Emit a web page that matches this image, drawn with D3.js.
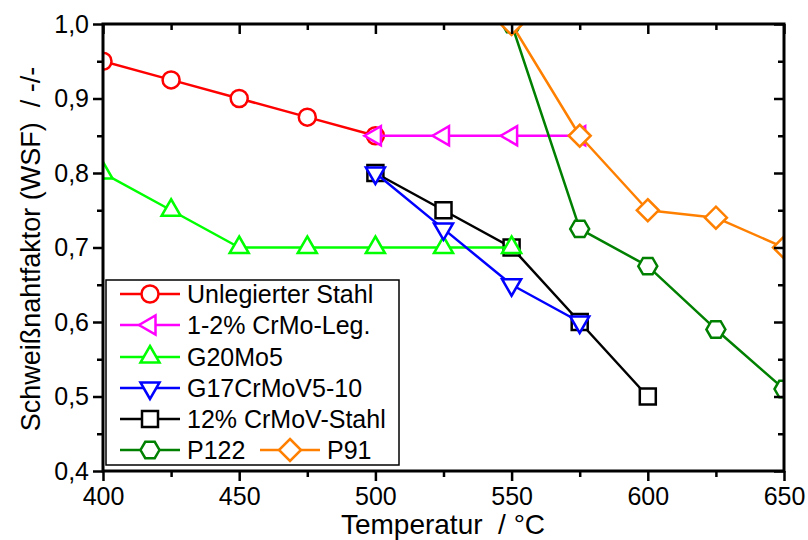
<!DOCTYPE html>
<html>
<head>
<meta charset="utf-8">
<script src="https://cdn.jsdelivr.net/npm/d3@7"></script>
<style>
  html, body { margin: 0; padding: 0; background: #fff; }
  svg { display: block; font-family: "Liberation Sans", Arial, sans-serif; }
  .title { white-space: pre; }
</style>
</head>
<body>
<svg id="chart" width="808" height="540"></svg>
<script>
// Temperature axis (°C) and weld strength factor axis
const xTicks = [400, 450, 500, 550, 600, 650];
const xMinorTicks = [425, 475, 525, 575, 625];
const yTicks = [0.4, 0.5, 0.6, 0.7, 0.8, 0.9, 1.0];
const yTickLabels = ["0,4", "0,5", "0,6", "0,7", "0,8", "0,9", "1,0"];
const yMinorTicks = [0.45, 0.55, 0.65, 0.75, 0.85, 0.95];

// Series: temperature and factor values
const unlegTemp = [400, 425, 450, 475, 500];
const unlegWsf  = [0.95, 0.925, 0.9, 0.875, 0.85];

const crmoTemp = [500, 525, 550, 575];
const crmoWsf  = [0.85, 0.85, 0.85, 0.85];

const g20Temp = [400, 425, 450, 475, 500, 525, 550];
const g20Wsf  = [0.80, 0.75, 0.70, 0.70, 0.70, 0.70, 0.70];

const g17Temp = [500, 525, 550, 575];
const g17Wsf  = [0.80, 0.725, 0.65, 0.60];

const cr12Temp = [500, 525, 550, 575, 600];
const cr12Wsf  = [0.80, 0.75, 0.70, 0.60, 0.50];

const p122Temp = [550, 575, 600, 625, 650];
const p122Wsf  = [1.00, 0.725, 0.675, 0.59, 0.51];

const p91Temp = [550, 575, 600, 625, 650];
const p91Wsf  = [1.00, 0.85, 0.75, 0.74, 0.70];

const seriesNames = ["Unlegierter Stahl", "1-2% CrMo-Leg.", "G20Mo5", "G17CrMoV5-10", "12% CrMoV-Stahl", "P122", "P91"];

const series = [
  { name: seriesNames[0], t: unlegTemp, v: unlegWsf, color: "#ff0000", shape: "circle" },
  { name: seriesNames[1], t: crmoTemp,  v: crmoWsf,  color: "#ff00ff", shape: "left" },
  { name: seriesNames[2], t: g20Temp,   v: g20Wsf,   color: "#00ff00", shape: "up" },
  { name: seriesNames[3], t: g17Temp,   v: g17Wsf,   color: "#0000ff", shape: "down" },
  { name: seriesNames[4], t: cr12Temp,  v: cr12Wsf,  color: "#000000", shape: "square" },
  { name: seriesNames[5], t: p122Temp,  v: p122Wsf,  color: "#008000", shape: "hexagon" },
  { name: seriesNames[6], t: p91Temp,   v: p91Wsf,   color: "#ff8000", shape: "diamond" }
];
// drawing order of the series (later ones lie on top)
const drawOrder = [0, 1, 4, 2, 3, 5, 6];

const svg = d3.select("#chart");
const L = 103, R = 784, T = 24, B = 471;

const x = d3.scaleLinear().domain([400, 650]).range([L, R]);
const y = d3.scaleLinear().domain([0.4, 1.0]).range([B, T]);

// marker outlines
function polygon(n, r, rot) {
  const pts = [];
  for (let i = 0; i < n; i++) {
    const a = rot + i * 2 * Math.PI / n;
    pts.push([r * Math.cos(a), r * Math.sin(a)]);
  }
  return "M" + pts.map(p => p[0].toFixed(2) + "," + p[1].toFixed(2)).join("L") + "Z";
}
function markerPath(shape) {
  switch (shape) {
    case "circle": return d3.symbol(d3.symbolCircle, Math.PI * 8.5 * 8.5)();
    case "up": return polygon(3, 11, -Math.PI / 2);
    case "down": return polygon(3, 11, Math.PI / 2);
    case "left": return polygon(3, 11, Math.PI);
    case "square": return "M-8,-8L8,-8L8,8L-8,8Z";
    case "diamond": return polygon(4, 11, -Math.PI / 2);
    case "hexagon": return polygon(6, 9.5, 0);
  }
}

svg.append("defs").append("clipPath").attr("id", "plotClip")
  .append("rect").attr("x", L).attr("y", T).attr("width", R - L).attr("height", B - T);

const plot = svg.append("g").attr("clip-path", "url(#plotClip)");
const line = d3.line().x(d => x(d[0])).y(d => y(d[1]));

drawOrder.forEach(i => {
  const s = series[i];
  const pts = s.t.map((t, k) => [t, s.v[k]]);
  const g = plot.append("g");
  g.append("path").attr("d", line(pts))
    .attr("fill", "none").attr("stroke", s.color).attr("stroke-width", 2.5)
    .attr("stroke-linejoin", "round");
  g.selectAll("path.m").data(pts).join("path").attr("class", "m")
    .attr("d", markerPath(s.shape))
    .attr("transform", d => `translate(${x(d[0])},${y(d[1])})`)
    .attr("fill", "#fff").attr("stroke", s.color).attr("stroke-width", 2.5);
});

// axes
const axStyle = g => {
  g.select(".domain").remove();
  g.selectAll(".tick line").attr("stroke", "#000").attr("stroke-width", 2.5);
  g.selectAll("text").attr("font-size", 25).attr("fill", "#000");
};
svg.append("g").attr("transform", `translate(0,${B})`)
  .call(d3.axisBottom(x).tickValues(xTicks).tickSize(10).tickPadding(6).tickFormat(d3.format("d")))
  .call(axStyle);
svg.append("g").attr("transform", `translate(0,${B})`)
  .call(d3.axisBottom(x).tickValues(xMinorTicks).tickSize(6).tickFormat(""))
  .call(axStyle);
svg.append("g").attr("transform", `translate(${L},0)`)
  .call(d3.axisLeft(y).tickValues(yTicks).tickSize(10).tickPadding(4)
    .tickFormat((d, i) => yTickLabels[i]))
  .call(axStyle);
svg.append("g").attr("transform", `translate(${L},0)`)
  .call(d3.axisLeft(y).tickValues(yMinorTicks).tickSize(6).tickFormat(""))
  .call(axStyle);
// inward ticks on top and right
svg.append("g").attr("transform", `translate(0,${T})`)
  .call(d3.axisTop(x).tickValues(xTicks).tickSize(-10).tickFormat(""))
  .call(axStyle);
svg.append("g").attr("transform", `translate(0,${T})`)
  .call(d3.axisTop(x).tickValues(xMinorTicks).tickSize(-6).tickFormat(""))
  .call(axStyle);
svg.append("g").attr("transform", `translate(${R},0)`)
  .call(d3.axisRight(y).tickValues(yTicks).tickSize(-10).tickFormat(""))
  .call(axStyle);
svg.append("g").attr("transform", `translate(${R},0)`)
  .call(d3.axisRight(y).tickValues(yMinorTicks).tickSize(-6).tickFormat(""))
  .call(axStyle);

// frame
svg.append("rect").attr("x", L).attr("y", T).attr("width", R - L).attr("height", B - T)
  .attr("fill", "none").attr("stroke", "#000").attr("stroke-width", 3);

// axis titles
svg.append("text").attr("class", "title").attr("x", 443).attr("y", 534).attr("text-anchor", "middle")
  .attr("font-size", 28).text("Temperatur  / °C");
svg.append("text").attr("class", "title").attr("transform", "translate(40,249) rotate(-90)").attr("text-anchor", "middle")
  .attr("font-size", 27).text("Schweißnahtfaktor (WSF)  / -/-");

// legend
const leg = svg.append("g");
leg.append("rect").attr("x", 106).attr("y", 280).attr("width", 293).attr("height", 185)
  .attr("fill", "#fff").attr("stroke", "#000").attr("stroke-width", 1.5);
const legPos = [
  [120, 294], [120, 325], [120, 357], [120, 388], [120, 419], [120, 450], [260, 450]
];
series.forEach((s, i) => {
  const [lx, ly] = legPos[i];
  const g = leg.append("g");
  g.append("line").attr("x1", lx).attr("x2", lx + 60).attr("y1", ly).attr("y2", ly)
    .attr("stroke", s.color).attr("stroke-width", 2.5);
  g.append("path").attr("d", markerPath(s.shape))
    .attr("transform", `translate(${lx + 30},${ly})`)
    .attr("fill", "#fff").attr("stroke", s.color).attr("stroke-width", 2.5);
  g.append("text").attr("x", lx + 67).attr("y", ly).attr("dy", "0.36em")
    .attr("font-size", 25).text(s.name);
});
</script>
</body>
</html>
